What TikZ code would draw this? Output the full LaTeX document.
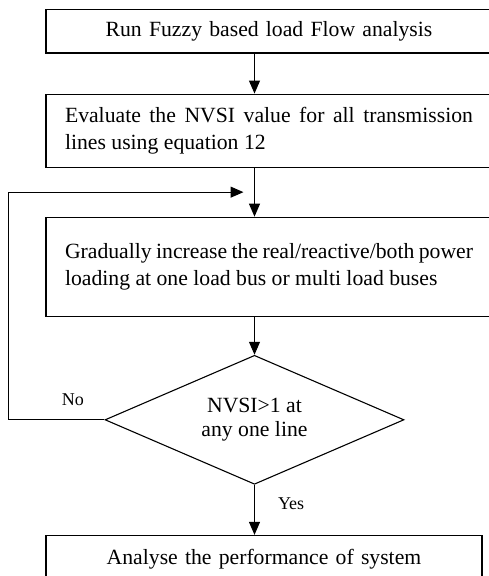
\documentclass[tikz,border=0pt]{standalone}
\usepackage{fontspec}
\setmainfont{Liberation Serif}
\usepackage{tikz}
\usetikzlibrary{shapes.geometric,arrows.meta,positioning,calc}

\tikzset{
  block/.style={draw,rectangle,line width=1.1pt,inner xsep=19pt,inner ysep=0pt,
    font=\fontsize{21.7}{27}\selectfont},
  decide/.style={draw,diamond,line width=1.1pt,inner sep=0pt,aspect=2.32,
    minimum width=299pt,minimum height=129pt,align=center,
    font=\fontsize{21.7}{24}\selectfont},
  lbl/.style={font=\fontsize{18}{20}\selectfont,inner sep=0pt}
}

\begin{document}
\begin{tikzpicture}[>={Triangle[length=13pt,width=11pt]},line width=1.1pt]
  \useasboundingbox (0,0) rectangle (488pt,-576pt);
  \node[block,text width=408pt,align=center,minimum height=43.5pt] (run) at (269pt,-31.25pt)
    {Run Fuzzy based load Flow analysis};
  \node[block,text width=408pt,align=justify,minimum height=73pt] (nvsi) [below=40pt of run]
    {Evaluate the NVSI value for all transmission\linebreak lines using equation 12};
  \node[block,text width=408pt,align=justify,minimum height=99pt] (load) [below=49pt of nvsi]
    {Gradually increase the real/reactive/both power\linebreak loading at one load bus or multi load buses};
  \node[decide] (check) [below=38pt of load,xshift=-14.5pt] {NVSI>1 at\\any one line};
  \node[block,text width=398pt,align=center,minimum height=48pt] (perf) [below=50pt of check,xshift=9.5pt]
    {Analyse the performance of system};
  \coordinate (join) at ($(nvsi.south -| check.north)!0.5!(load.north -| check.north)$);
  \path[->]
  (run.south -| check.north) edge (nvsi.north -| check.north)
  (nvsi.south -| check.north) edge (load.north -| check.north)
  (load.south -| check.north) edge (check.north)
  (check.south) edge node[lbl,right=23pt,pos=0.38] {Yes} (perf.north -| check.south)
  ;
  \draw[->] (check.west) -- node[lbl,above=14pt,pos=0.33] {No} ++(-96pt,0)
    |- ([xshift=-11pt]join);
\end{tikzpicture}
\end{document}
